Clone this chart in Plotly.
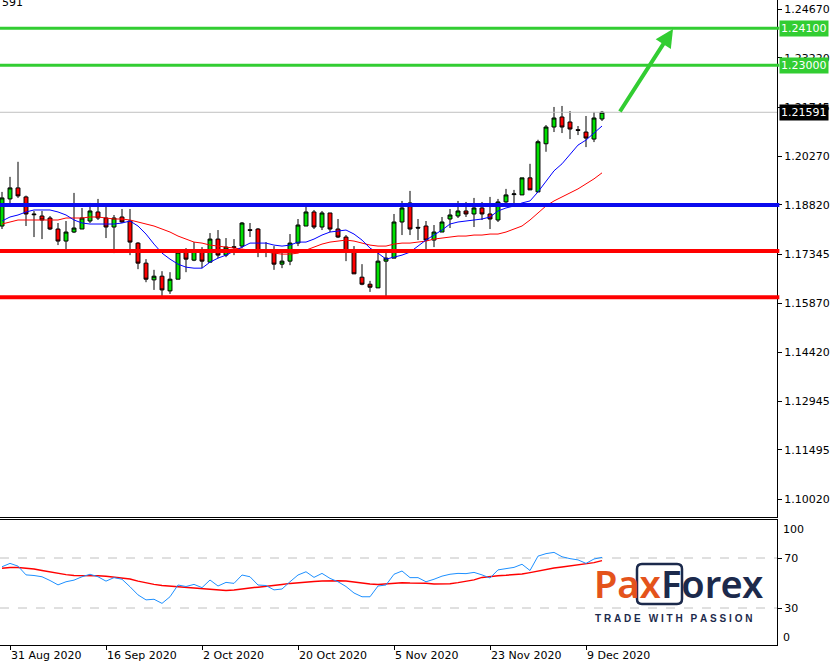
import plotly.graph_objects as go

# ---- trading days (categories) ----
AUG = [28, 31]
SEP = [1, 2, 3, 4, 7, 8, 9, 10, 11, 14, 15, 16, 17, 18, 21, 22, 23, 24, 25, 28, 29, 30]
OCT = [1, 2, 5, 6, 7, 8, 9, 12, 13, 14, 15, 16, 19, 20, 21, 22, 23, 26, 27, 28, 29, 30]
NOV = [2, 3, 4, 5, 6, 9, 10, 11, 12, 13, 16, 17, 18, 19, 20, 23, 24, 25, 26, 27, 30]
DEC = [1, 2, 3, 4, 7, 8, 9, 10, 11]
dates = ([f"2020-08-{d:02d}" for d in AUG] + [f"2020-09-{d:02d}" for d in SEP] +
         [f"2020-10-{d:02d}" for d in OCT] + [f"2020-11-{d:02d}" for d in NOV] +
         [f"2020-12-{d:02d}" for d in DEC])

# ---- EURUSD daily OHLC ----
opens = [1.1819, 1.1900, 1.1933, 1.1906, 1.1855, 1.1849, 1.1843, 1.1810, 1.1774, 1.1801,
         1.1810, 1.1834, 1.1861, 1.1843, 1.1816, 1.1846, 1.1834, 1.1768, 1.1708, 1.1658,
         1.1669, 1.1625, 1.1660, 1.1741, 1.1717, 1.1747, 1.1711, 1.1780, 1.1732, 1.1757,
         1.1759, 1.1808, 1.1810, 1.1745, 1.1744, 1.1705, 1.1714, 1.1768, 1.1819, 1.1861,
         1.1816, 1.1858, 1.1810, 1.1786, 1.1744, 1.1666, 1.1645, 1.1634, 1.1714, 1.1723,
         1.1831, 1.1888, 1.1815, 1.1819, 1.1777, 1.1801, 1.1840, 1.1849, 1.1864, 1.1855,
         1.1873, 1.1855, 1.1837, 1.1891, 1.1913, 1.1912, 1.1963, 1.1921, 1.2065, 1.2115,
         1.2145, 1.2130, 1.2107, 1.2100, 1.2079, 1.2139]
highs = [1.1921, 1.1966, 1.2011, 1.1910, 1.1864, 1.1864, 1.1849, 1.1828, 1.1834, 1.1918,
         1.1873, 1.1888, 1.1900, 1.1882, 1.1852, 1.1870, 1.1870, 1.1771, 1.1720, 1.1688,
         1.1684, 1.1681, 1.1744, 1.1753, 1.1771, 1.1756, 1.1798, 1.1807, 1.1783, 1.1780,
         1.1831, 1.1828, 1.1813, 1.1771, 1.1759, 1.1747, 1.1795, 1.1840, 1.1882, 1.1867,
         1.1864, 1.1858, 1.1840, 1.1792, 1.1759, 1.1705, 1.1655, 1.1738, 1.1744, 1.1855,
         1.1894, 1.1924, 1.1840, 1.1834, 1.1822, 1.1846, 1.1870, 1.1894, 1.1891, 1.1903,
         1.1891, 1.1906, 1.1900, 1.1930, 1.1927, 1.1963, 1.2005, 1.2077, 1.2121, 1.2175,
         1.2178, 1.2163, 1.2118, 1.2148, 1.2160, 1.2163]
lows = [1.1810, 1.1882, 1.1903, 1.1819, 1.1786, 1.1780, 1.1807, 1.1762, 1.1750, 1.1798,
        1.1810, 1.1828, 1.1837, 1.1783, 1.1738, 1.1828, 1.1732, 1.1690, 1.1651, 1.1628,
        1.1610, 1.1616, 1.1660, 1.1681, 1.1714, 1.1693, 1.1711, 1.1723, 1.1726, 1.1732,
        1.1753, 1.1786, 1.1726, 1.1726, 1.1688, 1.1693, 1.1702, 1.1759, 1.1819, 1.1810,
        1.1807, 1.1801, 1.1783, 1.1714, 1.1676, 1.1642, 1.1622, 1.1634, 1.1601, 1.1723,
        1.1792, 1.1792, 1.1777, 1.1744, 1.1756, 1.1801, 1.1813, 1.1843, 1.1846, 1.1816,
        1.1837, 1.1810, 1.1831, 1.1882, 1.1882, 1.1912, 1.1927, 1.1921, 1.2041, 1.2100,
        1.2097, 1.2079, 1.2091, 1.2055, 1.2070, 1.2133]
closes = [1.1903, 1.1933, 1.1909, 1.1855, 1.1853, 1.1837, 1.1810, 1.1774, 1.1801, 1.1813,
          1.1843, 1.1864, 1.1843, 1.1816, 1.1843, 1.1831, 1.1771, 1.1708, 1.1660, 1.1669,
          1.1628, 1.1660, 1.1741, 1.1720, 1.1747, 1.1714, 1.1780, 1.1732, 1.1756, 1.1755,
          1.1828, 1.1806, 1.1744, 1.1743, 1.1705, 1.1714, 1.1768, 1.1822, 1.1861, 1.1816,
          1.1858, 1.1810, 1.1786, 1.1744, 1.1676, 1.1645, 1.1636, 1.1714, 1.1723, 1.1831,
          1.1873, 1.1810, 1.1813, 1.1777, 1.1801, 1.1831, 1.1852, 1.1864, 1.1855, 1.1873,
          1.1855, 1.1840, 1.1891, 1.1912, 1.1915, 1.1963, 1.1927, 1.2071, 1.2115, 1.2142,
          1.2115, 1.2109, 1.2105, 1.2082, 1.2142, 1.21591]

# ---- moving averages ----
ma_fast = [1.1834, 1.1846, 1.1852, 1.1861, 1.1867, 1.1867, 1.1867, 1.1861, 1.1852, 1.1837,
           1.1828, 1.1825, 1.1825, 1.1825, 1.1825, 1.1828, 1.1834, 1.1819, 1.1795, 1.1765,
           1.1738, 1.1720, 1.1705, 1.1696, 1.1693, 1.1693, 1.1711, 1.1723, 1.1732, 1.1744,
           1.1756, 1.1768, 1.1768, 1.1768, 1.1762, 1.1759, 1.1762, 1.1771, 1.1771, 1.1780,
           1.1792, 1.1801, 1.1804, 1.1807, 1.1795, 1.1777, 1.1753, 1.1738, 1.1720, 1.1726,
           1.1732, 1.1741, 1.1759, 1.1777, 1.1792, 1.1807, 1.1825, 1.1831, 1.1834, 1.1837,
           1.1840, 1.1846, 1.1864, 1.1873, 1.1879, 1.1888, 1.1894, 1.1921, 1.1954, 1.1984,
           1.2005, 1.2034, 1.2061, 1.2076, 1.2097, 1.2118]
ma_slow = [1.1825, 1.1831, 1.1837, 1.1837, 1.1837, 1.1837, 1.1837, 1.1837, 1.1843, 1.1843,
           1.1843, 1.1846, 1.1846, 1.1843, 1.1840, 1.1840, 1.1837, 1.1831, 1.1825, 1.1819,
           1.1810, 1.1801, 1.1789, 1.1780, 1.1771, 1.1768, 1.1762, 1.1759, 1.1756, 1.1753,
           1.1750, 1.1747, 1.1744, 1.1741, 1.1738, 1.1735, 1.1735, 1.1738, 1.1747, 1.1756,
           1.1765, 1.1771, 1.1774, 1.1777, 1.1774, 1.1768, 1.1762, 1.1759, 1.1759, 1.1765,
           1.1768, 1.1768, 1.1771, 1.1774, 1.1780, 1.1783, 1.1786, 1.1789, 1.1789, 1.1792,
           1.1792, 1.1795, 1.1795, 1.1801, 1.1810, 1.1819, 1.1837, 1.1858, 1.1879, 1.1894,
           1.1906, 1.1918, 1.1930, 1.1945, 1.1960, 1.1978]

# ---- oscillator panel ----
rsi = [63, 65.7, 63.5, 56.5, 56, 55, 52, 48.5, 51, 52.3,
       55, 57, 55, 51.5, 54.3, 53, 47, 40.5, 36.5, 37,
       33.7, 39, 48.4, 47.2, 48.9, 46.3, 52.4, 47.6, 50.5, 49.7,
       56.4, 55, 48.4, 48, 44.5, 45.2, 51, 56.4, 59, 54.5,
       57.7, 53.7, 51, 47.2, 42, 39, 39, 47.6, 48.4, 57,
       59.6, 54.3, 54.3, 51, 53, 55.5, 57, 57.7, 57.5, 58.5,
       56.5, 54, 60.5, 61.2, 62.5, 65, 60, 71.5, 73.5, 74.5,
       71, 69.5, 68.5, 65.7, 69.2, 70.5]
rsi_signal = [61.8, 62.5, 62.5, 62, 61.2, 60, 58.7, 57.5, 56.7, 56,
              56, 56.1, 55.8, 55.4, 54.8, 54, 53.2, 51.5, 50, 48.9,
              48, 47.5, 47.1, 46.7, 46.3, 45.6, 45, 44.4, 44.1, 44.5,
              45, 46, 46.7, 47.6, 48.3, 48.9, 49.7, 50.3, 51.1, 51.3,
              51.6, 52, 51.9, 51.6, 50.7, 49.8, 49.2, 48.9, 49.4, 49.9,
              50.3, 50, 50, 49.8, 49.2, 49.2, 49.5, 50.3, 51.2, 52.5,
              54.5, 55.5, 55.9, 56.2, 56.5, 57.2, 58.3, 59.6, 60.8, 62,
              62.8, 63.6, 64.9, 65.5, 66.3, 67.9]

# ---- levels and axis labels ----
green_levels = [1.2410, 1.2300]
blue_levels = [1.1882]
red_levels = [1.1744, 1.1606]
last_price = 1.21591
price_ticks = [1.24670, 1.23220, 1.21745, 1.20270, 1.18820, 1.17345, 1.15870,
               1.14420, 1.12945, 1.11495, 1.10020]
date_ticks = ["2020-08-31", "2020-09-16", "2020-10-02", "2020-10-20",
              "2020-11-05", "2020-11-23", "2020-12-09"]
date_labels = ["31 Aug 2020", "16 Sep 2020", "2 Oct 2020", "20 Oct 2020",
               "5 Nov 2020", "23 Nov 2020", "9 Dec 2020"]

W, H = 840, 662
PH = 645  # plotting height in px (bottom margin 17)
XD = 777 / W
FONT = "DejaVu Sans"

fig = go.Figure()
fig.add_trace(go.Candlestick(
    x=dates, open=opens, high=highs, low=lows, close=closes,
    increasing=dict(fillcolor="#00e000", line=dict(color="black", width=1)),
    decreasing=dict(fillcolor="#ff0000", line=dict(color="black", width=1)),
    xaxis="x", yaxis="y", showlegend=False, hoverinfo="skip"))
fig.add_trace(go.Scatter(x=dates, y=ma_slow, mode="lines", line=dict(color="#ff0000", width=1),
                         xaxis="x", yaxis="y", showlegend=False))
fig.add_trace(go.Scatter(x=dates, y=ma_fast, mode="lines", line=dict(color="#0000ff", width=1),
                         xaxis="x", yaxis="y", showlegend=False))
fig.add_trace(go.Scatter(x=dates, y=rsi_signal, mode="lines", line=dict(color="#ff0000", width=1.5),
                         xaxis="x2", yaxis="y2", showlegend=False))
fig.add_trace(go.Scatter(x=dates, y=rsi, mode="lines", line=dict(color="#1e90ff", width=1),
                         xaxis="x2", yaxis="y2", showlegend=False))

shapes = []
shapes.append(dict(type="line", xref="x domain", x0=0, x1=1, yref="y", y0=last_price, y1=last_price,
                   line=dict(color="#c0c0c0", width=1), layer="above"))
for lv in green_levels:
    shapes.append(dict(type="line", xref="x domain", x0=0, x1=1.003, yref="y", y0=lv, y1=lv,
                       line=dict(color="#32cd32", width=3), layer="above"))
for lv in blue_levels:
    shapes.append(dict(type="line", xref="x domain", x0=0, x1=1.003, yref="y", y0=lv, y1=lv,
                       line=dict(color="#0a0aee", width=4), layer="above"))
for lv in red_levels:
    shapes.append(dict(type="line", xref="x domain", x0=0, x1=1.003, yref="y", y0=lv, y1=lv,
                       line=dict(color="#ff0000", width=4), layer="above"))
for lv in [70, 30]:
    shapes.append(dict(type="line", xref="x2 domain", x0=0, x1=1, yref="y2", y0=lv, y1=lv,
                       line=dict(color="#c0c0c0", width=1, dash="dash"), layer="below"))

# logo box (rounded) around "xF"
def px(x):
    return x / W
def py(y):
    return 1 - y / PH
bx0, bx1, by0, by1, r = 637, 682, 564, 604, 5
path = (f"M {px(bx0+r)},{py(by0)} L {px(bx1-r)},{py(by0)} Q {px(bx1)},{py(by0)} {px(bx1)},{py(by0+r)} "
        f"L {px(bx1)},{py(by1-r)} Q {px(bx1)},{py(by1)} {px(bx1-r)},{py(by1)} "
        f"L {px(bx0+r)},{py(by1)} Q {px(bx0)},{py(by1)} {px(bx0)},{py(by1-r)} "
        f"L {px(bx0)},{py(by0+r)} Q {px(bx0)},{py(by0)} {px(bx0+r)},{py(by0)} Z")
shapes.append(dict(type="path", xref="paper", yref="paper", path=path,
                   line=dict(color="#1c2a4c", width=2.5), layer="above"))

annotations = []
# price label boxes
for lv in green_levels:
    annotations.append(dict(xref="paper", x=779 / W, xanchor="left", yref="y", y=lv, yanchor="middle",
                            text=f"{lv:.5f}", showarrow=False, bgcolor="#32cd32",
                            font=dict(family=FONT, size=11, color="white"), borderpad=1))
annotations.append(dict(xref="paper", x=779 / W, xanchor="left", yref="y", y=last_price, yanchor="middle",
                        text=f"{last_price:.5f}", showarrow=False, bgcolor="black",
                        font=dict(family=FONT, size=11, color="white"), borderpad=1))
# oscillator edge labels
annotations.append(dict(xref="paper", x=781 / W, xanchor="left", yref="paper", y=py(529), yanchor="middle",
                        text="100", showarrow=False, font=dict(family=FONT, size=11, color="black")))
annotations.append(dict(xref="paper", x=781 / W, xanchor="left", yref="paper", y=py(637), yanchor="middle",
                        text="0", showarrow=False, font=dict(family=FONT, size=11, color="black")))
# cut header text
annotations.append(dict(xref="paper", x=0, xanchor="left", yref="paper", y=py(3), yanchor="middle",
                        text="591", showarrow=False, font=dict(family=FONT, size=11, color="black")))
# green arrow
annotations.append(dict(xref="paper", yref="paper", x=px(673), y=py(29), ax=619 - 673, ay=113 - 29,
                        axref="pixel", ayref="pixel", showarrow=True, arrowhead=2, arrowsize=0.9,
                        arrowwidth=4, arrowcolor="#32cd32", text=""))
# logo
annotations.append(dict(xref="paper", x=px(592), xanchor="left", yref="paper", y=py(583), yanchor="middle",
                        text="<span style='color:#e4531b'>Pax</span><span style='color:#1c2a4c'>Forex</span>",
                        showarrow=False, font=dict(family="Noto Sans", size=38, weight=600)))
SP = "\u2009\u200a"
tagline = (SP.join("TRADE") + "\u2002" + SP + SP.join("WITH") + "\u2002" + SP + SP.join("PASSION"))
annotations.append(dict(xref="paper", x=px(593), xanchor="left", yref="paper", y=py(618), yanchor="middle",
                        text=tagline, showarrow=False,
                        font=dict(family="Liberation Sans", size=10, color="#1c2a4c", weight="bold")))

xr = [-0.25, 96.875]
fig.update_layout(
    width=W, height=H, margin=dict(l=0, r=0, t=0, b=H - PH, pad=0),
    paper_bgcolor="white", plot_bgcolor="white", showlegend=False,
    font=dict(family=FONT, size=11, color="black"),
    xaxis=dict(domain=[0, XD], anchor="y", type="category", range=xr, showticklabels=False,
               ticks="", showline=True, linecolor="black", linewidth=1, showgrid=False,
               zeroline=False, rangeslider=dict(visible=False), matches="x2"),
    yaxis=dict(domain=[(PH - 517) / PH, 1], anchor="x", side="right", range=[1.0949, 1.24948],
               tickvals=price_ticks, ticktext=[f"{t:.5f}" for t in price_ticks],
               ticks="outside", ticklen=4, tickcolor="black", showline=True, linecolor="black",
               showgrid=False, zeroline=False, tickfont=dict(family=FONT, size=11)),
    xaxis2=dict(domain=[0, XD], anchor="y2", type="category", range=xr,
                tickvals=date_ticks, ticktext=date_labels, ticks="outside", ticklen=4,
                tickcolor="black", ticklabelposition="outside right", showline=True, mirror=True,
                linecolor="black", showgrid=False, zeroline=False,
                tickfont=dict(family=FONT, size=11)),
    yaxis2=dict(domain=[0, (PH - 520) / PH], anchor="x2", side="right", range=[0.4, 100.4],
                tickvals=[70, 30], ticks="outside", ticklen=4, tickcolor="black",
                showline=True, linecolor="black", showgrid=False, zeroline=False,
                tickfont=dict(family=FONT, size=11)),
    shapes=shapes, annotations=annotations,
)

fig.write_html("out.html", config={"displayModeBar": False},
               post_script="document.body.style.margin='0';document.body.style.padding='0';")
